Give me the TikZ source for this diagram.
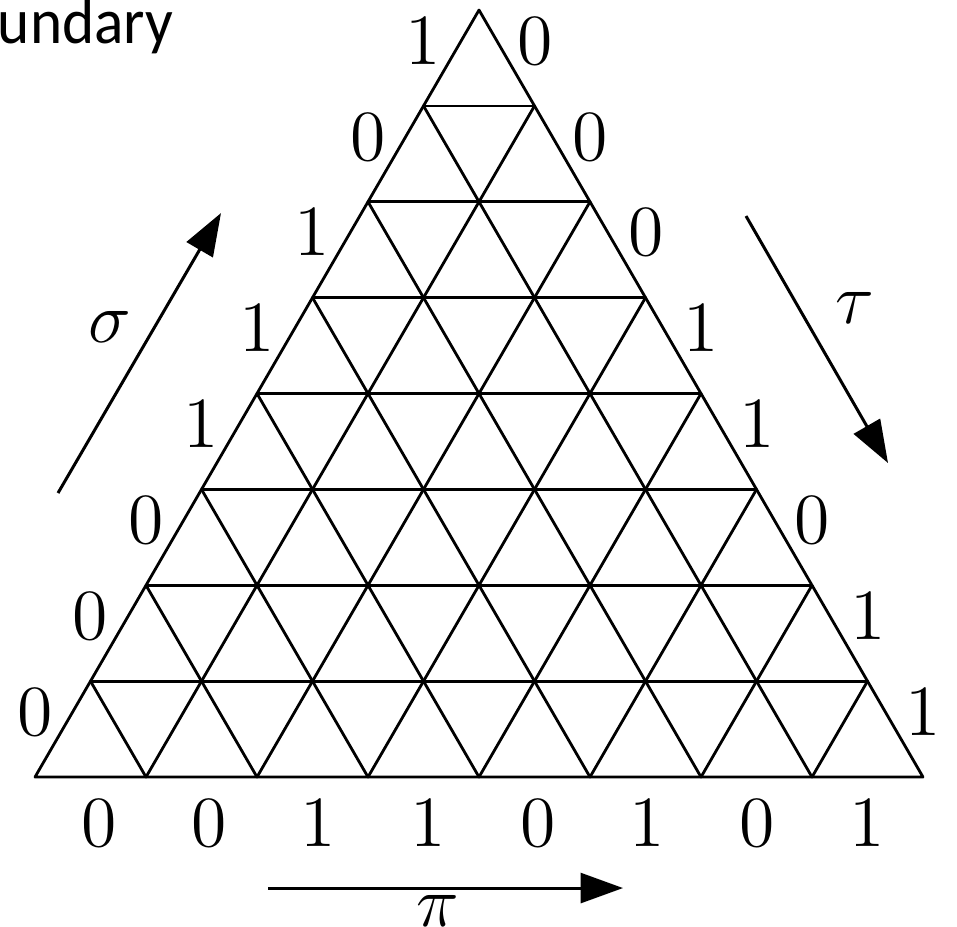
\documentclass[tikz,border=0pt]{standalone}
\usepackage{fontspec}
\newfontfamily\capfont{Carlito}
\usetikzlibrary{arrows.meta}
\begin{document}
\begin{tikzpicture}[x=0.2pt,y=-0.2pt,
  gridline/.style={line width=0.56pt, line join=round, line cap=round},
  lab/.style={inner sep=0pt, font=\fontsize{14}{14}\selectfont},
  arr/.style={line width=0.6pt, -{Triangle[length=8.5pt,width=6pt]}}]
\useasboundingbox (0,0) rectangle (957,926);
% grid
\foreach \i in {1,...,7}{
  \draw[gridline] ({35+55.5*\i},{777-95.875*\i}) -- ({35+55.5*\i+111*(8-\i)},{777-95.875*\i});
}
\foreach \j in {1,...,7}{
  \draw[gridline] ({35+111*\j},777) -- ({35+55.5*(8-\j)+111*\j},{777-95.875*(8-\j)});
  \draw[gridline] ({35+111*\j},777) -- ({35+55.5*\j},{777-95.875*\j});
}
\draw[gridline] (35,777) -- (923,777) -- (479,10) -- cycle;
% left labels (bottom to top)
\foreach \b [count=\k from 0] in {0,0,0,1,1,1,0,1}{
  \node[lab] (l\k) at ({35+55.5*(\k+0.5)-28},{777-95.875*(\k+0.5)-17}) {$\b$};
}
% right labels (bottom to top)
\foreach \b [count=\k from 0] in {1,1,0,1,1,0,0,0}{
  \node[lab] (r\k) at ({923-55.5*(\k+0.5)+28},{777-95.875*(\k+0.5)-17}) {$\b$};
}
% bottom labels
\foreach \b [count=\k from 0] in {0,0,1,1,0,1,0,1}{
  \node[lab] (b\k) at ({99+109.7*\k},823) {$\b$};
}
% arrows
\coordinate (sigA) at (58,493);
\coordinate (sigB) at (221,213);
\draw[arr] (sigA) -- (sigB);
\node[lab] (sig) at (110,327) {$\sigma$};
\coordinate (tauA) at (746,216);
\coordinate (tauB) at (888,463);
\draw[arr] (tauA) -- (tauB);
\node[lab] (tau) at (855,308) {$\tau$};
\coordinate (piA) at (268,888);
\coordinate (piB) at (623,888);
\draw[arr] (piA) -- (piB);
\node[lab] (pi) at (438,911) {$\pi$};
% clipped caption
\node[inner sep=0pt, anchor=base west, xscale=0.95, font=\capfont\fontsize{12.9}{13}\selectfont] (cap) at (-3,43) {undary};
\end{tikzpicture}
\end{document}
